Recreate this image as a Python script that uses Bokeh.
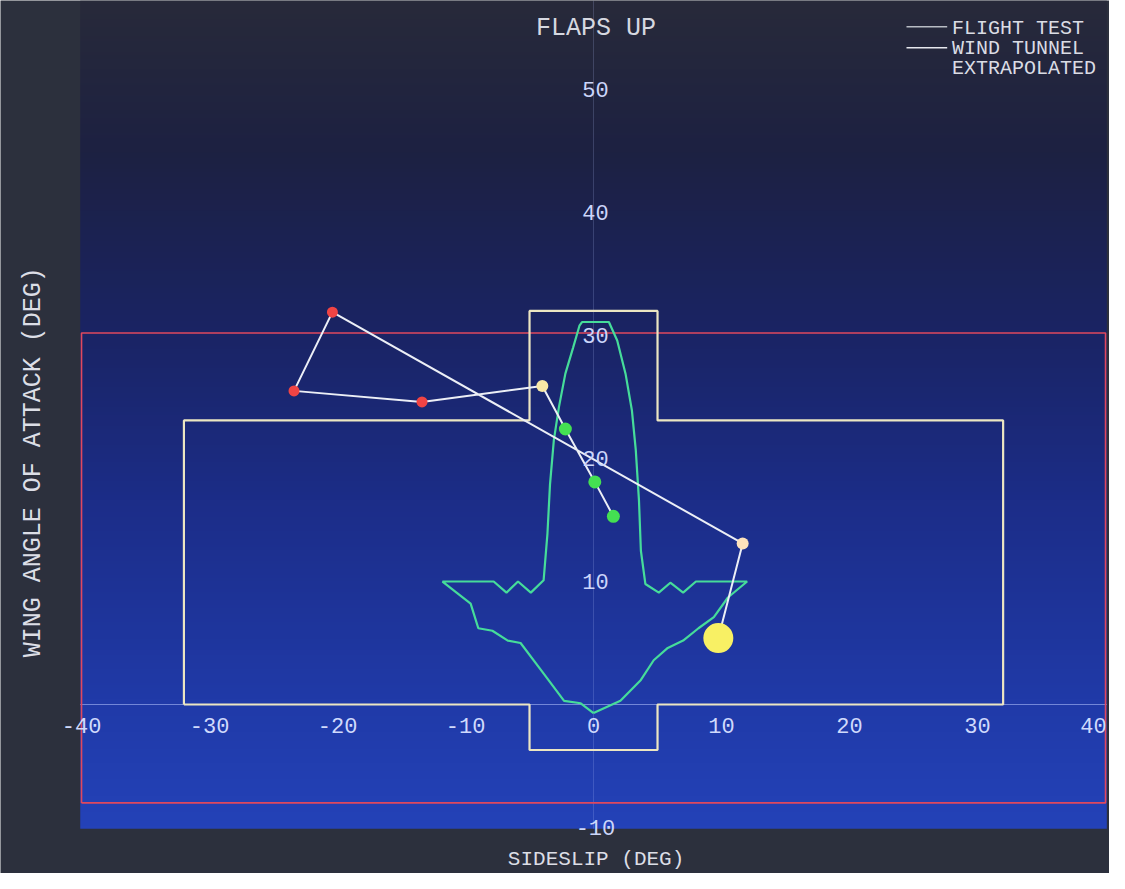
import numpy as np
from bokeh.plotting import figure
from bokeh.models import Range1d
from bokeh.core.properties import value
from bokeh.embed import file_html
from bokeh.resources import INLINE

# ---------------- text ----------------
TITLE = "FLAPS UP"
X_TITLE = "SIDESLIP (DEG)"
Y_TITLE = "WING ANGLE OF ATTACK (DEG)"
legend_labels = ["FLIGHT TEST", "WIND TUNNEL", "EXTRAPOLATED"]

# ---------------- ticks ----------------
x_ticks = [-40, -30, -20, -10, 0, 10, 20, 30, 40]
x_tick_labels = ["-40", "-30", "-20", "-10", "0", "10", "20", "30", "40"]
y_ticks = [-10, 10, 20, 30, 40, 50]
y_tick_labels = ["-10", "10", "20", "30", "40", "50"]

# ---------------- data ----------------
# outer limit box (red)
limit_x = [-40, 40, 40, -40, -40]
limit_y = [-8.0, -8.0, 30.2, 30.2, -8.0]

# test envelope (cream cross shape)
test_box_x = [-32, -5, -5, 5, 5, 32, 32, 5, 5, -5, -5, -32, -32]
test_box_y = [0, 0, -3.7, -3.7, 0, 0, 23.1, 23.1, 32.0, 32.0, 23.1, 23.1, 0]

# wind tunnel envelope (green)
wt_x = [0, -1.0, -2.3, -4.1, -5.7, -6.7, -7.9, -9.0, -9.6, -11.8,
        -7.8, -6.8, -5.9, -4.9, -3.9,
        -3.6, -3.4, -3.1, -2.7, -2.2, -1.6, -1.1, -0.9, 1.2, 1.85, 2.5, 3.0, 3.3, 3.55, 3.7, 4.05,
        5.1, 6.0, 7.0, 8.0, 12.0,
        10.5, 9.4, 8.2, 7.0, 5.8, 4.7, 3.7, 2.1, 0]
wt_y = [-0.7, 0.1, 0.3, 2.8, 5.0, 5.2, 6.0, 6.2, 8.2, 10.0,
        10.0, 9.1, 10.0, 9.1, 10.1,
        13.9, 17.9, 21.5, 24.2, 26.9, 29.0, 30.8, 31.1, 31.1, 29.6, 26.9, 23.9, 20.7, 16.6, 12.5, 9.8,
        9.1, 9.9, 9.1, 10.0, 10.0,
        8.7, 7.1, 6.2, 5.2, 4.6, 3.6, 2.0, 0.3, -0.7]

# flight test trace
ft_x = [1.55, 0.1, -2.2, -4.0, -13.4, -23.4, -20.4, 11.65, 9.75]
ft_y = [15.3, 18.1, 22.4, 25.9, 24.6, 25.5, 31.9, 13.1, 5.4]
ft_status = ["ok", "ok", "ok", "caution", "warning", "warning", "warning", "caution2", "current"]

# ---------------- style ----------------
FONT = value("Liberation Mono")
status_color = {"ok": "#44e052", "caution": "#f8e8a6", "warning": "#f04444",
                "caution2": "#fde2bc", "current": "#f8f064"}
status_size = {"ok": 13, "caution": 12, "warning": 11, "caution2": 12, "current": 30}

# ---------------- figure ----------------
X_RANGE = (-46.33, 40.31)
Y_RANGE = (-13.74, 57.24)
p = figure(width=1109, height=873, output_backend="svg", toolbar_location=None,
           x_axis_type=None, y_axis_type=None,
           x_range=Range1d(*X_RANGE), y_range=Range1d(*Y_RANGE),
           min_border=0, min_border_left=0, min_border_right=0,
           min_border_top=0, min_border_bottom=0)
p.background_fill_color = "#2c303d"
p.border_fill_color = "#2c303d"
p.outline_line_color = None
p.grid.visible = False

# background gradient (screen area)
bx0, bx1 = -40.1, 40.1
by0, by1 = -10.1, Y_RANGE[1]
stop_y = [-10.1, 0.3, 16.6, 30.4, 45.0, 57.24]
stop_rgb = [(36, 66, 184), (32, 58, 168), (28, 45, 136), (26, 36, 100), (29, 33, 66), (40, 42, 58)]
N = 300
yy = np.linspace(by0, by1, N)
img = np.zeros((N, 1), dtype=np.uint32)
v = img.view(dtype=np.uint8).reshape((N, 1, 4))
for k in range(3):
    v[:, 0, k] = np.interp(yy, stop_y, [c[k] for c in stop_rgb]).astype(np.uint8)
v[:, 0, 3] = 255
p.image_rgba(image=[img], x=bx0, y=by0, dw=bx1 - bx0, dh=by1 - by0)

# axis lines
p.line(x=[bx0, bx1], y=[0, 0], line_color="#b8c6ff", line_alpha=0.55, line_width=1)
p.line(x=[0, 0], y=[by0, by1], line_color="#b8c6ff", line_alpha=0.2, line_width=1)

# limit box, test box, wind tunnel envelope
p.line(limit_x, limit_y, line_color="#e0485e", line_width=1.6)
p.line(test_box_x, test_box_y, line_color="#ece6c2", line_width=2.2)
p.line(wt_x, wt_y, line_color="#46dc9a", line_width=2.2)

# flight test path
p.line(ft_x, ft_y, line_color="#eceff6", line_width=2)
p.scatter(x=ft_x, y=ft_y,
          size=[status_size[s] for s in ft_status],
          fill_color=[status_color[s] for s in ft_status],
          line_color=None)

# tick labels
x_label_shift = [0, 0, 0, 0, 0, 0, 0, 0, -12]
p.text(x=x_ticks, y=[-1.7] * len(x_ticks), text=x_tick_labels,
       x_offset=x_label_shift,
       text_font=FONT, text_font_size="22px", text_color="#d0dafc",
       text_align="center", text_baseline="middle")
p.text(x=[0.15] * len(y_ticks), y=y_ticks, text=y_tick_labels,
       text_font=FONT, text_font_size="22px", text_color="#ccd6fa",
       text_align="center", text_baseline="middle")

# titles
p.text(x=[0.2], y=[55.0], text=[TITLE], text_font=FONT, text_font_size="25px",
       text_color="#d6d8e0", text_align="center", text_baseline="middle")
p.text(x=[0.2], y=[-12.6], text=[X_TITLE], text_font=FONT, text_font_size="21px",
       text_color="#dcdee6", text_align="center", text_baseline="middle")
p.text(x=[-43.75], y=[19.7], text=[Y_TITLE], text_font=FONT, text_font_size="25px",
       text_color="#dcdee6", text_align="center", text_baseline="middle", angle=np.pi / 2)

# legend
leg_row_y = [55.0, 53.33, 51.7]
p.segment(x0=[24.45, 24.45], y0=[55.1, 53.4], x1=[27.63, 27.63], y1=[55.1, 53.4],
          line_color=["#b8bcc4", "#e6e8ee"], line_width=1.6)
p.text(x=[28.0] * 3, y=leg_row_y, text=legend_labels, text_font=FONT,
       text_font_size="20px", text_color="#dadce4", text_align="left",
       text_baseline="middle")

open("out.html", "w").write(file_html(p, INLINE))
